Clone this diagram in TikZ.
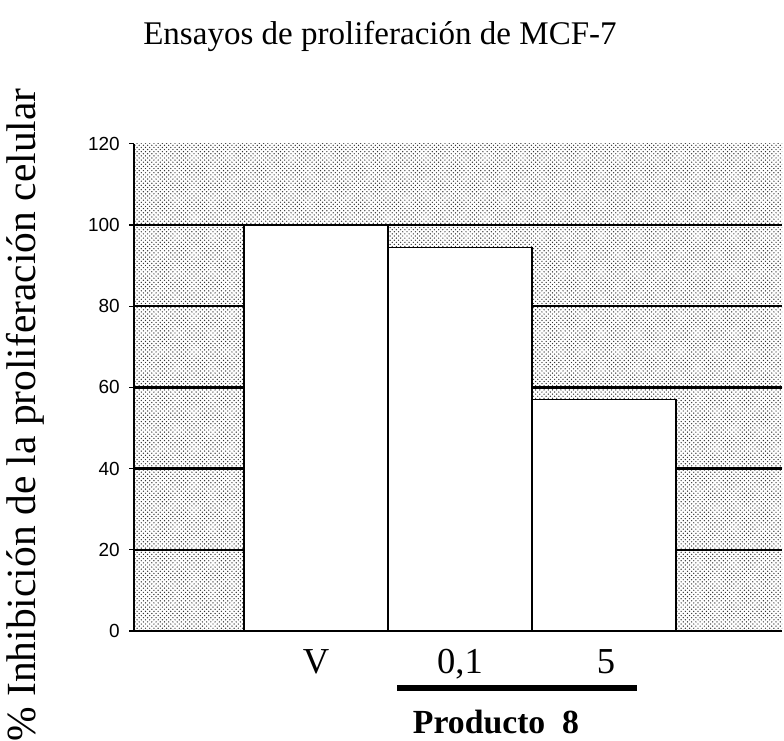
\documentclass[tikz,border=0pt]{standalone}
\usepackage{fontspec}
\setmainfont{Liberation Serif}
\setsansfont{Liberation Sans}
\usetikzlibrary{patterns}
\begin{document}
\begin{tikzpicture}
\def\sy{0.1015};
\useasboundingbox (-3.35,-2.725) rectangle (16.25,15.775);
\fill[pattern=crosshatch dots,pattern color=black!80] (0,0) rectangle (16.2,120*\sy);
\foreach\v in {20,40,...,100} {
  \draw[line width=1.6pt] (0,\v*\sy) -- (16.2,\v*\sy);
}
\foreach\v in {0,20,...,120} {
  \draw[thick] (-0.12,\v*\sy) -- (0,\v*\sy);
  \node[anchor=east,inner sep=0pt,font=\sffamily\fontsize{13.5}{13.5}\selectfont] (t\v) at (-0.35,\v*\sy) {\v};
}
\foreach\x/\h/\n in {2.75/100/v,6.35/94.5/a,9.95/57/b} {
  \draw[line width=1pt,fill=white] (\x,0) rectangle ++(3.6,\h*\sy);
}
\draw[line width=1.4pt] (0,120*\sy) -- (0,0) -- (16.2,0);
\foreach\x/\t/\n in {4.55/V/v,8.15/{0,1}/a,11.8/5/b} {
  \node[anchor=base,font=\fontsize{26}{26}\selectfont] (c\n) at (\x,-1.07) {\t};
}
\coordinate (p1) at (6.575,-1.425);
\coordinate (p2) at (12.575,-1.425);
\draw[line width=4.3pt] (p1) -- (p2);
\node[font=\bfseries\fontsize{24}{24}\selectfont] (prod) at (9.05,-2.28) {Producto\ \ 8};
\node[rotate=90,font=\fontsize{29.5}{29.5}\selectfont] (ylab) at (-2.725,5.4) {\% Inhibición de la proliferación celular};
\node[anchor=base,font=\fontsize{23.5}{24}\selectfont] (titulo) at (6.15,14.65) {Ensayos de proliferación de MCF-7};
\end{tikzpicture}
\end{document}
